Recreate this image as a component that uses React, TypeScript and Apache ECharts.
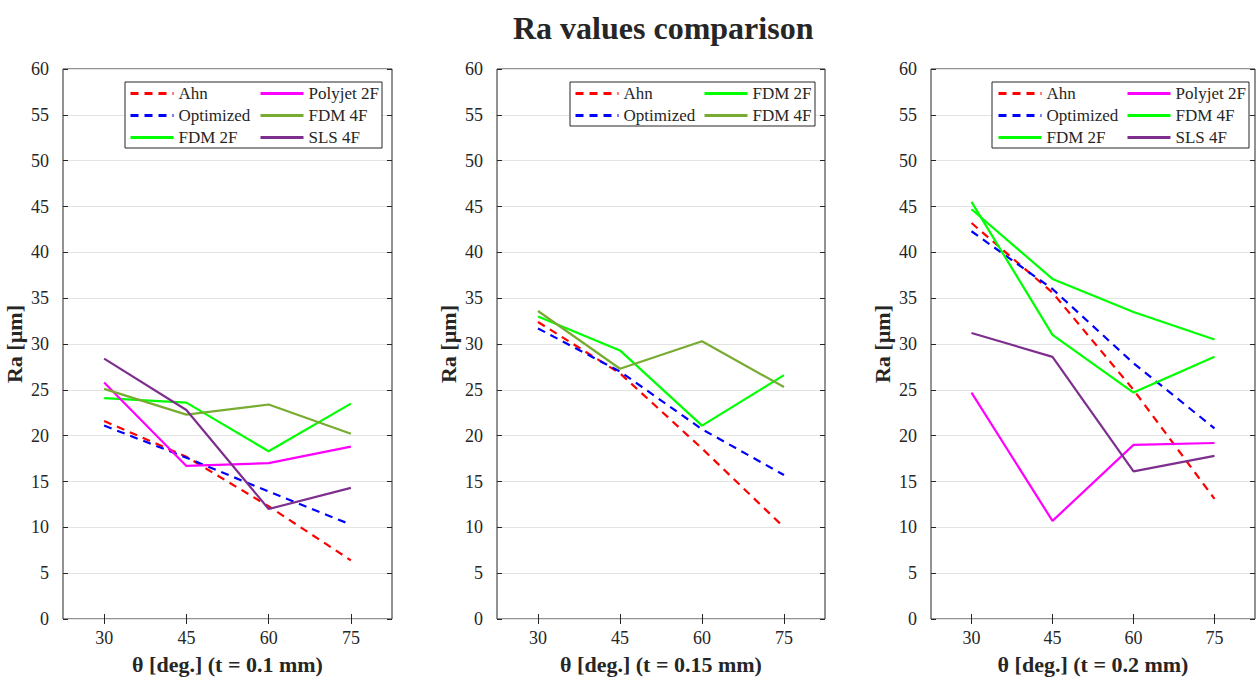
import React, { useEffect, useRef } from "react";
import * as echarts from "echarts";

const X_CATS = ["30", "45", "60", "75"];
const X_NAMES = ["θ [deg.] (t = 0.1 mm)", "θ [deg.] (t = 0.15 mm)", "θ [deg.] (t = 0.2 mm)"];
const Y_NAME = "Ra [µm]";
const TITLE = "Ra values comparison";

// Panel 1 (t = 0.1 mm)
const ahn1 = [21.6, 17.7, 12.3, 6.4];
const opt1 = [21.1, 17.6, 13.9, 10.3];
const fdm2f1 = [24.1, 23.6, 18.3, 23.5];
const poly1 = [25.8, 16.7, 17.0, 18.8];
const fdm4f1 = [25.1, 22.3, 23.4, 20.2];
const sls1 = [28.4, 22.8, 12.0, 14.3];

// Panel 2 (t = 0.15 mm)
const ahn2 = [32.4, 26.8, 18.6, 10.0];
const opt2 = [31.7, 27.0, 20.7, 15.7];
const fdm2f2 = [33.0, 29.3, 21.1, 26.6];
const fdm4f2 = [33.6, 27.3, 30.3, 25.3];

// Panel 3 (t = 0.2 mm)
const ahn3 = [43.2, 35.6, 25.0, 13.1];
const opt3 = [42.3, 36.0, 27.9, 20.8];
const fdm2f3 = [45.5, 31.0, 24.7, 28.6];
const poly3 = [24.7, 10.7, 19.0, 19.2];
const fdm4f3 = [44.7, 37.1, 33.5, 30.5];
const sls3 = [31.2, 28.6, 16.1, 17.8];

const RED = "#FF0000";
const BLUE = "#0000FF";
const GREEN = "#00FF00";
const MAGENTA = "#FF00FF";
const OLIVE = "#77AC30";
const PURPLE = "#7E2F8E";

type S = { name: string; data: number[]; color: string; dashed?: boolean };

const panels: { series: S[]; col1: string[]; col2: string[] }[] = [
  {
    series: [
      { name: "Ahn", data: ahn1, color: RED, dashed: true },
      { name: "Optimized", data: opt1, color: BLUE, dashed: true },
      { name: "FDM 2F", data: fdm2f1, color: GREEN },
      { name: "Polyjet 2F", data: poly1, color: MAGENTA },
      { name: "FDM 4F", data: fdm4f1, color: OLIVE },
      { name: "SLS 4F", data: sls1, color: PURPLE },
    ],
    col1: ["Ahn", "Optimized", "FDM 2F"],
    col2: ["Polyjet 2F", "FDM 4F", "SLS 4F"],
  },
  {
    series: [
      { name: "Ahn", data: ahn2, color: RED, dashed: true },
      { name: "Optimized", data: opt2, color: BLUE, dashed: true },
      { name: "FDM 2F", data: fdm2f2, color: GREEN },
      { name: "FDM 4F", data: fdm4f2, color: OLIVE },
    ],
    col1: ["Ahn", "Optimized"],
    col2: ["FDM 2F", "FDM 4F"],
  },
  {
    series: [
      { name: "Ahn", data: ahn3, color: RED, dashed: true },
      { name: "Optimized", data: opt3, color: BLUE, dashed: true },
      { name: "FDM 2F", data: fdm2f3, color: GREEN },
      { name: "Polyjet 2F", data: poly3, color: MAGENTA },
      { name: "FDM 4F", data: fdm4f3, color: GREEN },
      { name: "SLS 4F", data: sls3, color: PURPLE },
    ],
    col1: ["Ahn", "Optimized", "FDM 2F"],
    col2: ["Polyjet 2F", "FDM 4F", "SLS 4F"],
  },
];

const FONT = "'Liberation Serif', 'Times New Roman', serif";
const AX = "#262626";

const GRIDS = [
  { left: 63, width: 329 },
  { left: 497, width: 328 },
  { left: 931, width: 324 },
];
const TOP = 69;
const HEIGHT = 550;

const LEGENDS = [
  { box: [125, 82, 257, 66], c1: 129, c2: 259 },
  { box: [570, 82, 245, 44], c1: 574, c2: 703 },
  { box: [992, 82, 257, 66], c1: 997, c2: 1126 },
];

export default function App() {
  const ref = useRef<HTMLDivElement>(null);
  useEffect(() => {
    if (!ref.current) return;
    const chart = echarts.init(ref.current, undefined, { renderer: "svg" });

    const grid: any[] = [];
    const xAxis: any[] = [];
    const yAxis: any[] = [];
    const series: any[] = [];
    const legend: any[] = [];
    const graphic: any[] = [];

    panels.forEach((p, i) => {
      const g = GRIDS[i];
      grid.push({
        left: g.left,
        top: TOP,
        width: g.width,
        height: HEIGHT,
        show: true,
        borderColor: AX,
        borderWidth: 1,
        backgroundColor: "#fff",
      });
      xAxis.push({
        type: "category",
        gridIndex: i,
        data: X_CATS,
        boundaryGap: true,
        position: "bottom",
        name: X_NAMES[i],
        nameLocation: "middle",
        nameGap: 34,
        nameTextStyle: { fontFamily: FONT, fontWeight: "bold", fontSize: 22, color: AX },
        axisLine: { show: false },
        axisTick: { show: true, inside: true, alignWithLabel: true, interval: 0, length: 5, lineStyle: { color: AX } },
        axisLabel: { fontFamily: FONT, fontSize: 18, color: AX, margin: 10, interval: 0 },
        splitLine: { show: false },
      });
      xAxis.push({
        type: "category",
        gridIndex: i,
        data: X_CATS,
        boundaryGap: true,
        position: "top",
        axisLine: { show: false },
        axisTick: { show: true, inside: true, alignWithLabel: true, interval: 0, length: 5, lineStyle: { color: AX } },
        axisLabel: { show: false },
        splitLine: { show: false },
      });
      yAxis.push({
        type: "value",
        gridIndex: i,
        min: 0,
        max: 60,
        interval: 5,
        position: "left",
        name: Y_NAME,
        nameLocation: "middle",
        nameGap: 38,
        nameTextStyle: { fontFamily: FONT, fontWeight: "bold", fontSize: 22, color: AX },
        axisLine: { show: false },
        axisTick: { show: true, inside: true, length: 5, lineStyle: { color: AX } },
        axisLabel: { fontFamily: FONT, fontSize: 18, color: AX, margin: 14 },
        splitLine: { show: true, lineStyle: { color: "#E3E3E3", width: 1 } },
      });
      yAxis.push({
        type: "value",
        gridIndex: i,
        min: 0,
        max: 60,
        interval: 5,
        position: "right",
        axisLine: { show: false },
        axisTick: { show: true, inside: true, length: 5, lineStyle: { color: AX } },
        axisLabel: { show: false },
        splitLine: { show: false },
      });

      p.series.forEach((s) => {
        series.push({
          type: "line",
          name: `${s.name}#${i}`,
          xAxisIndex: 2 * i,
          yAxisIndex: 2 * i,
          data: s.data,
          symbol: "none",
          showSymbol: false,
          lineStyle: { color: s.color, width: 2.2, type: s.dashed ? [8, 6] : "solid" },
          itemStyle: { color: s.color },
          z: 2,
        });
      });

      const L = LEGENDS[i];
      graphic.push({
        type: "rect",
        shape: { x: L.box[0], y: L.box[1], width: L.box[2], height: L.box[3] },
        style: { fill: "#fff", stroke: AX, lineWidth: 1 },
        z: 3,
      });
      [p.col1, p.col2].forEach((col, ci) => {
        legend.push({
          show: true,
          orient: "vertical",
          left: ci === 0 ? L.c1 : L.c2,
          top: 85,
          padding: 0,
          itemGap: 5,
          itemWidth: 43,
          itemHeight: 14,
          selectedMode: false,
          itemStyle: { opacity: 0, borderWidth: 0 },
          lineStyle: { width: 3 },
          data: col.map((n) => `${n}#${i}`),
          formatter: (name: string) => name.split("#")[0],
          textStyle: { fontFamily: FONT, fontSize: 17, color: AX, lineHeight: 14 },
          z: 4,
        });
      });
    });

    chart.setOption({
      animation: false,
      backgroundColor: "#fff",
      title: {
        text: TITLE,
        left: 508,
        top: 7,
        textStyle: { fontFamily: FONT, fontWeight: "bold", fontSize: 32, color: AX },
      },
      grid,
      xAxis,
      yAxis,
      series,
      legend,
      graphic,
    });
    return () => chart.dispose();
  }, []);
  return (
    <div
      ref={ref}
      style={{ position: "absolute", left: 0, top: 0, width: 1258, height: 682 }}
    />
  );
}
